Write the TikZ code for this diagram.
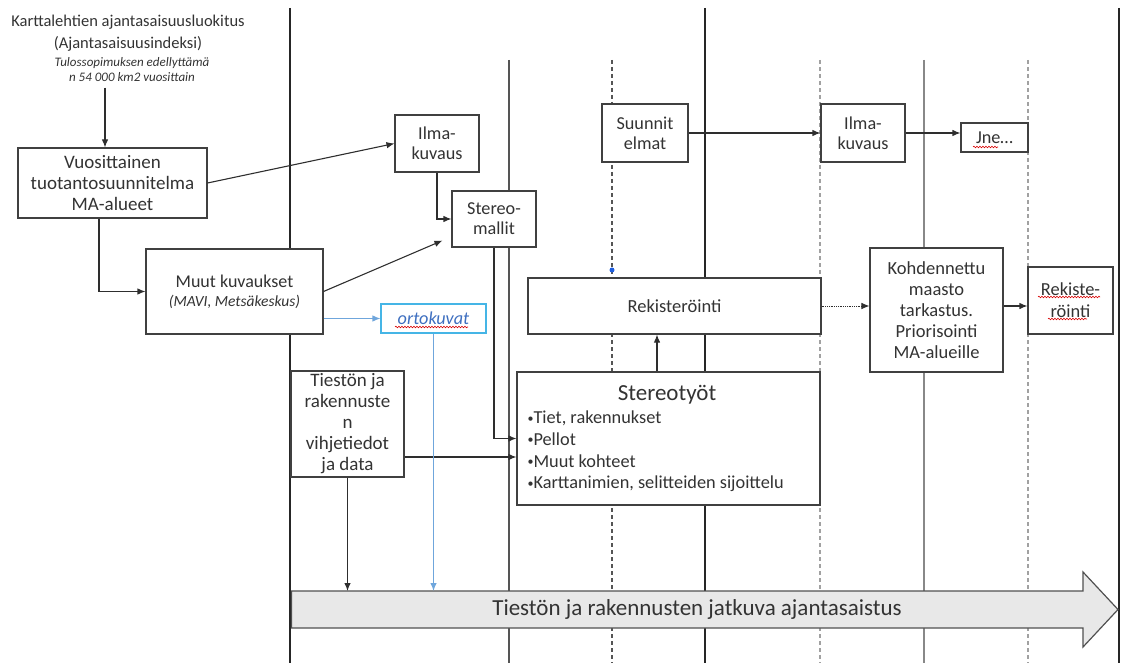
\documentclass[tikz,border=0pt]{standalone}
\usepackage{fontspec}
\setmainfont{Carlito}
\usetikzlibrary{%
  arrows.meta,%
  calc,%
  decorations.pathmorphing% snake | spell underline
}
\definecolor{boxgray}{HTML}{404040}
\definecolor{txtgray}{HTML}{333333}
\definecolor{linegray}{HTML}{2E2E2E}
\definecolor{lanegray}{HTML}{555555}
\definecolor{barfill}{HTML}{E8E8E8}
\definecolor{bardraw}{HTML}{505050}
\definecolor{ortoblue}{HTML}{45B5E6}
\definecolor{ortotext}{HTML}{3E6FC0}
\definecolor{ortoline}{HTML}{6FA6DC}
\definecolor{dotblue}{HTML}{1F5FE0}
\newcommand{\smallbullet}{{\fontsize{12}{12}\selectfont\raisebox{1.5pt}{•}}}

\begin{document}
\begin{tikzpicture}[
    x=1pt,y=-1pt,
    >={Latex[length=8pt,width=6.5pt]},
    line width=1.1pt,
    font=\fontsize{18.5}{21}\selectfont,
    every node/.style={text=txtgray},
    box/.style={rectangle,draw=boxgray,fill=white,inner sep=0pt,align=center},
    smallbox/.style={box,font=\fontsize{18.2}{20}\selectfont},
    lane/.style={draw=lanegray,line width=1.1pt},
    mainlane/.style={draw=black!85,line width=2.4pt},
    dashlane/.style={draw=lanegray!55,line width=1.1pt,dash pattern=on 4pt off 3pt},
    spell/.style={draw=red!85!black,line width=0.6pt,decorate,
        decoration={snake,amplitude=0.8pt,segment length=3pt}}
  ]
    \useasboundingbox (0,0) rectangle (1123,663);

    % swimlanes
    \draw[lane] (509,60) -- (509,663);
    \draw[dashlane,draw=lanegray] (612,60) -- (612,663);
    \draw[dashlane] (820,60) -- (820,663);
    \draw[lane,draw=lanegray!70] (924,60) -- (924,663);
    \draw[dashlane] (1028,60) -- (1028,663);
    \draw[mainlane] (290,8) -- (290,663);
    \draw[mainlane] (705,8) -- (705,663);
    \draw[mainlane] (1119,8) -- (1119,663);

    % timeline arrow
    \draw[draw=bardraw,fill=barfill,line width=1.2pt]
        (291.5,591) -- (1083,591) -- (1083,572) -- (1118,609.5)
        -- (1083,647) -- (1083,628) -- (291.5,628) -- cycle;
    \coordinate (bartop) at (0,591);
    \node (bar) [font=\fontsize{23}{27}\selectfont] at (697,609)
        {Tiestön ja rakennusten jatkuva ajantasaistus};

    \node (luokitus) [align=center,font=\fontsize{16.5}{22}\selectfont] at (128,33)
        {Karttalehtien ajantasaisuusluokitus\\(Ajantasaisuusindeksi)};
    \node (tulos) [align=center,inner sep=5pt,font=\fontsize{13}{15}\selectfont\itshape]
        at (132,70) {Tulossopimuksen edellyttämä\\n 54 000 km2 vuosittain};

    \node (vuosi) [box,font=\fontsize{19}{21}\selectfont,minimum width=189pt,minimum height=70pt]
        at (112.5,183) {Vuosittainen\\tuotantosuunnitelma\\MA-alueet};
    \node (muut) [box,font=\fontsize{18}{21}\selectfont,minimum width=177pt,minimum height=85pt]
        at (234.5,291.5)
        {Muut kuvaukset\\[-2pt]{\fontsize{15.5}{17}\selectfont\itshape (MAVI, Metsäkeskus)}};
    \node (ilma1) [smallbox,minimum width=84pt,minimum height=57pt] at (437,143.5)
        {Ilma-\\kuvaus};
    \node (stereo) [smallbox,minimum width=84pt,minimum height=56pt] at (494,219)
        {Stereo-\\mallit};
    \node (orto) [box,draw=ortoblue,text=ortotext,font=\fontsize{18.2}{20}\selectfont\itshape,
        minimum width=105pt,minimum height=29pt] at (433.5,318.5) {ortokuvat};
    \node (tiesto) [box,font=\fontsize{19}{21}\selectfont,minimum width=113pt,minimum height=106pt]
        at (347.5,424) {Tiestön ja\\rakennuste\\n\\vihjetiedot\\ja data};

    \node (stereot) [box,minimum width=303pt,minimum height=133pt] at (668.5,438.5) {};
    \node (stitle) [font=\fontsize{23}{27}\selectfont] at (667,395) {Stereotyöt};
    \node (slist) [anchor=west,align=left,inner sep=0pt,font=\fontsize{18.3}{21.7}\selectfont]
        at (527,451.5)
        {\smallbullet Tiet, rakennukset\\\smallbullet Pellot\\\smallbullet Muut kohteet\\
         \smallbullet Karttanimien, selitteiden sijoittelu};

    \node (rekis) [box,minimum width=293pt,minimum height=56pt] at (674.5,306) {Rekisteröinti};
    \node (suunn) [smallbox,minimum width=86pt,minimum height=58pt] at (645,133)
        {Suunnit\\elmat};
    \node (ilma2) [smallbox,minimum width=84pt,minimum height=58pt] at (863,133)
        {Ilma-\\kuvaus};
    \node (jne) [smallbox,minimum width=67pt,minimum height=29pt] at (994.5,137.5) {Jne…};
    \node (kohd) [box,minimum width=133pt,minimum height=124pt] at (936.5,310)
        {Kohdennettu\\maasto\\tarkastus.\\Priorisointi\\MA-alueille};
    \node (rekis2) [box,minimum width=85pt,minimum height=67pt,
        font=\fontsize{18.4}{22}\selectfont] at (1070.5,300.5) {Rekiste-\\röinti};
    \node (dot) [circle,fill=dotblue,inner sep=0pt,minimum size=5pt] at (612,270) {};

    \begin{scope}[->,color=linegray]
     \draw ([xshift=-7.5pt]vuosi.north |- tulos.south) -- ([xshift=-7.5pt]vuosi.north);
     \draw (vuosi.east) -- (ilma1.west);
     \draw (ilma1.south) |- (stereo.west);
     \draw ([xshift=-13.5pt]vuosi.south) |- (muut.west);
     \draw (muut.east) -- ([shift={(-9pt,7pt)}]stereo.south west);
     \draw (stereo.south) |- (stereot.west);
     \draw ([yshift=-33pt]tiesto.east) -- ([yshift=-33pt]tiesto.east -| stereot.west);
     \draw (tiesto.south) -- (tiesto.south |- bartop);
     \draw ([xshift=-11.5pt]stereot.north) -- ([xshift=-11.5pt]stereot.north |- rekis.south);
     \draw (suunn.east) -- (ilma2.west);
     \draw (ilma2.east) -- (ilma2.east -| jne.west);
     \draw[densely dotted,line width=0.8pt] (rekis.east) -- (rekis.east -| kohd.west);
     \draw (rekis.east -| kohd.east) -- (rekis.east -| rekis2.west);
    \end{scope}
    \begin{scope}[->,color=ortoline]
     \draw (muut.east |- orto.west) -- (orto.west);
     \draw (orto.south) -- (orto.south |- bartop);
    \end{scope}

    % spell check marks
    \draw[spell] (395,327) -- (468,327);
    \draw[spell] (973,147) -- (998,147);
    \draw[spell] (1038,297) -- (1100,297);
    \draw[spell] (1048,319) -- (1087,319);
\end{tikzpicture}
\end{document}
